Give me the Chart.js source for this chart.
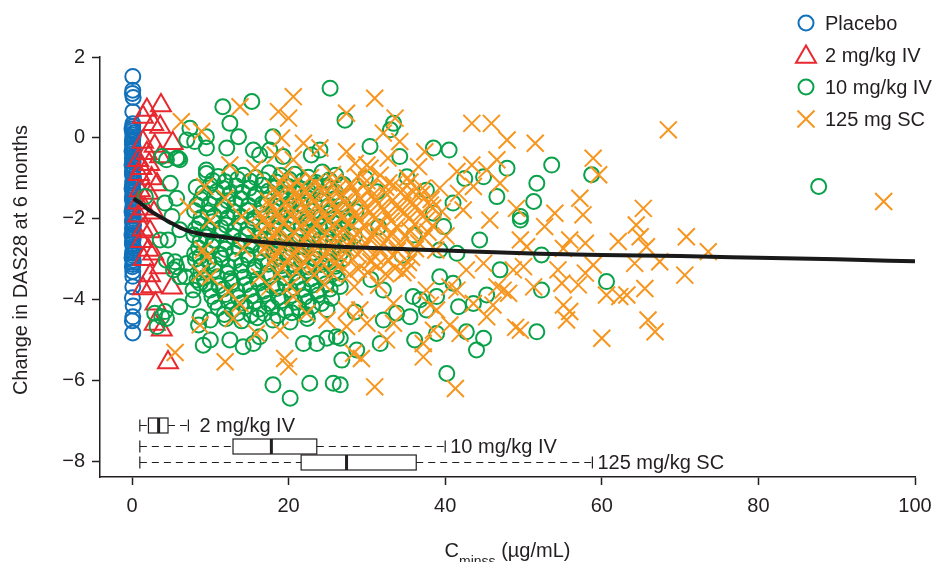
<!DOCTYPE html>
<html>
<head>
<meta charset="utf-8">
<script src="https://cdn.jsdelivr.net/npm/chart.js@4"></script>
<style>
  html, body { margin: 0; padding: 0; background: #fff; }
  #wrap { width: 937px; height: 562px; }
</style>
</head>
<body>
<div id="wrap"><canvas id="chart" width="937" height="562"></canvas></div>
<script>
// Axis ticks
const xTicks = [0, 20, 40, 60, 80, 100];
const yTicks = [-8, -6, -4, -2, 0, 2];

// Placebo: Cminss ~0
const placebo = [
  [0.1, 1.52], [0.1, 1.18], [0.05, 1.1], [0.15, 1.0], [0.1, 0.65], [0.1, 0.35], [0, 0.22], [0.2, 0.12],
  [0.1, 0.02], [0.05, -0.1], [0.15, -0.22], [0, -0.33], [0.2, -0.45], [0.1, -0.55], [0, -0.66], [0.15, -0.78],
  [0.05, -0.9], [0.2, -1.0], [0.1, -1.12], [0, -1.25], [0.15, -1.35], [0.05, -1.47], [0.2, -1.58], [0.1, -1.7],
  [0, -1.82], [0.15, -1.93], [0.05, -2.05], [0.2, -2.16], [0.1, -2.28], [0, -2.4], [0.15, -2.5], [0.05, -2.62],
  [0.2, -2.73], [0.1, -2.85], [0, -2.96], [0.15, -3.08], [0.05, -3.18], [0.1, -3.42], [0.1, -3.68], [0.05, -3.95],
  [0.15, -4.15], [0.1, -4.42], [0.05, -4.52], [0.1, -4.82],
  [0.1, 0.28], [0.05, 0.17], [0.15, 0.07], [0.1, -0.04], [0.05, -0.16], [0.15, -0.27], [0.1, -0.39], [0.05, -0.5],
  [0.15, -0.6], [0.1, -0.72], [0.05, -0.84], [0.15, -0.95], [0.1, -1.06], [0.05, -1.18], [0.15, -1.3], [0.1, -1.41],
  [0.05, -1.53], [0.15, -1.64], [0.1, -1.76], [0.05, -1.87], [0.15, -1.99], [0.1, -2.1], [0.05, -2.22], [0.15, -2.34],
  [0.1, -2.45], [0.05, -2.56], [0.15, -2.68], [0.1, -2.79], [0.05, -2.9], [0.15, -3.02], [0.1, -3.13], [0.1, -3.3]
];

// 2 mg/kg IV
const dose2 = [
  [1.9, 0.69], [3.7, 0.8], [1.4, 0.52], [2.7, 0.34], [3.6, 0.27], [5.2, -0.13], [1.4, -0.1], [1.9, -0.38],
  [2.9, -0.2], [0.8, -0.55], [3.6, -0.46], [1.2, -0.75], [2.2, -0.65], [0.9, -0.9], [2.5, -1.0], [1.0, -1.3],
  [2.1, -1.36], [3.2, -1.15], [0.8, -1.6], [1.6, -1.75], [0.8, -1.92], [2.8, -1.85], [1.4, -2.27], [2.3, -2.31],
  [1.2, -2.55], [2.1, -2.77], [2.7, -2.86], [1.5, -3.0], [3.6, -3.2], [2.3, -3.4], [2.5, -3.67], [5.1, -3.7],
  [1.4, -3.72], [3.0, -4.1], [3.8, -4.74], [2.9, -4.6], [4.6, -5.55]
];

// 10 mg/kg IV - scattered points
const dose10Outer = [
  [11.6, 0.77], [15.3, 0.9], [25.3, 1.23], [27.2, 0.44], [12.5, 0.36], [13.6, 0.03], [12.1, -0.25], [7.4, 0.24],
  [7.0, -0.05], [8.0, -0.09], [9.5, -0.25], [5.9, -0.5], [9.5, -0.79], [18.0, 0.03], [15.5, -0.3], [16.3, -0.42],
  [17.6, -0.3], [19.3, -0.46], [22.9, -0.42], [24.0, -0.3], [4.4, -0.54], [33.4, 0.36], [33.0, 0.2], [30.4, -0.21],
  [38.5, -0.25], [47.9, -0.75], [44.9, -0.96], [51.7, -1.12], [46.6, -1.45], [49.6, -1.94], [31.3, -1.33], [35.1, -0.96],
  [34.2, -0.46], [37.6, -1.29], [38.5, -1.86], [41.0, -1.61], [39.8, -2.19], [53.6, -0.67], [58.7, -0.91], [51.3, -1.57],
  [49.6, -2.03], [52.3, -2.89], [52.3, -3.76], [60.6, -3.55], [51.7, -4.79], [87.7, -1.2], [47.0, -3.26], [45.3, -3.88],
  [40.2, -5.82], [44.0, -5.24], [44.9, -4.95], [42.7, -4.79], [41.7, -4.17], [38.9, -4.83], [37.6, -4.25], [35.5, -4.42],
  [36.1, -4.99], [32.1, -4.5], [31.7, -5.08], [28.7, -5.24], [26.6, -4.95], [26.6, -6.1], [33.8, -4.33], [35.9, -3.92],
  [38.9, -3.92], [43.6, -4.09], [41.0, -3.59], [39.3, -3.43], [39.3, -2.77], [44.4, -2.52], [41.5, -2.85], [36.8, -4.0],
  [32.1, -3.76], [18.0, -6.1], [20.2, -6.43], [22.7, -6.06], [25.7, -6.06], [9.1, -5.12], [8.5, -4.62], [10.0, -4.5],
  [12.5, -4.99], [14.2, -5.16], [15.5, -5.08], [16.3, -4.91], [21.9, -5.08], [23.6, -5.08], [24.9, -4.95], [26.1, -4.91],
  [26.8, -5.49], [4.4, -4.46], [4.2, -4.29], [5.3, -3.26], [6.1, -3.43], [8.3, -3.51], [4.6, -2.52], [5.5, -3.06],
  [7.0, -3.1], [2.9, -4.33], [3.8, -4.42], [3.2, -4.66], [1.7, -1.45], [3.8, -0.46], [5.7, -0.5], [9.5, 0.03],
  [6.1, -0.54], [4.9, -1.12], [4.2, -1.61], [5.7, -1.49], [5.1, -1.94], [6.1, -2.27], [3.6, -2.52], [4.4, -3.02],
  [5.7, -3.18], [6.8, -3.43], [7.8, -3.76], [6.1, -4.17], [8.7, -3.59], [8.7, -4.42], [10.0, -4.99], [8.7, -2.93],
  [7.8, -4.0], [31.5, -2.2], [34.5, -2.9], [30.5, -3.5], [29.8, -1.0], [36.0, -2.4], [42.5, -1.0], [40.5, -0.3],
  [28.5, -4.3]
];

// 10 mg/kg IV - dense core
const dose10Core = [
  [9.5, -0.88], [11.0, -0.95], [12.6, -0.85], [14.2, -0.92], [15.8, -0.98], [17.5, -0.86], [19.0, -0.93], [20.8, -0.9],
  [22.5, -0.97], [24.3, -0.84], [26.0, -0.92],
  [8.2, -1.22], [10.0, -1.17], [11.7, -1.25], [13.3, -1.19], [15.0, -1.24], [16.6, -1.16], [18.3, -1.23], [20.0, -1.2],
  [21.6, -1.26], [23.4, -1.18], [25.1, -1.22], [27.0, -1.15],
  [8.8, -1.52], [10.5, -1.47], [12.2, -1.55], [13.9, -1.5], [15.6, -1.46], [17.2, -1.54], [19.0, -1.49], [20.7, -1.53],
  [22.4, -1.48], [24.1, -1.56], [25.9, -1.5], [27.8, -1.45],
  [8.0, -1.8], [9.7, -1.85], [11.4, -1.77], [13.0, -1.83], [14.7, -1.79], [16.4, -1.86], [18.1, -1.8], [19.8, -1.76],
  [21.5, -1.84], [23.2, -1.8], [25.0, -1.87], [26.7, -1.78], [28.6, -1.82],
  [8.6, -2.12], [10.3, -2.07], [12.0, -2.15], [13.7, -2.1], [15.4, -2.06], [17.1, -2.14], [18.8, -2.09], [20.5, -2.13],
  [22.2, -2.08], [23.9, -2.16], [25.7, -2.1], [27.5, -2.05],
  [7.9, -2.4], [9.5, -2.45], [11.2, -2.37], [12.9, -2.43], [14.6, -2.39], [16.3, -2.46], [18.0, -2.4], [19.7, -2.36],
  [21.4, -2.44], [23.1, -2.4], [24.8, -2.47], [26.6, -2.38], [28.4, -2.42],
  [8.5, -2.72], [10.2, -2.67], [11.9, -2.75], [13.6, -2.7], [15.3, -2.66], [17.0, -2.74], [18.7, -2.69], [20.4, -2.73],
  [22.1, -2.68], [23.8, -2.76], [25.6, -2.7], [27.3, -2.65],
  [8.1, -3.0], [9.8, -3.05], [11.5, -2.97], [13.2, -3.03], [14.9, -2.99], [16.6, -3.06], [18.3, -3.0], [20.0, -2.96],
  [21.7, -3.04], [23.4, -3.0], [25.2, -3.07], [27.0, -2.98],
  [8.8, -3.32], [10.5, -3.27], [12.2, -3.35], [13.9, -3.3], [15.6, -3.26], [17.3, -3.34], [19.0, -3.29], [20.7, -3.33],
  [22.4, -3.28], [24.1, -3.36], [25.9, -3.3],
  [9.4, -3.6], [11.1, -3.65], [12.8, -3.57], [14.5, -3.63], [16.2, -3.59], [17.9, -3.66], [19.6, -3.6], [21.3, -3.56],
  [23.0, -3.64], [24.8, -3.6], [26.6, -3.67],
  [10.2, -3.92], [11.9, -3.87], [13.6, -3.95], [15.3, -3.9], [17.0, -3.86], [18.7, -3.94], [20.4, -3.89], [22.1, -3.93],
  [23.8, -3.88], [25.5, -3.96],
  [11.0, -4.2], [12.8, -4.25], [14.5, -4.17], [16.2, -4.23], [17.9, -4.19], [19.6, -4.26], [21.3, -4.2], [23.0, -4.16],
  [24.9, -4.24],
  [12.0, -4.47], [14.0, -4.52], [16.0, -4.44], [18.0, -4.5], [20.2, -4.55], [22.4, -4.46],
  // second, offset layer
  [10.3, -1.05], [11.9, -1.08], [13.5, -1.02], [15.1, -1.07], [16.8, -1.04], [18.4, -1.09], [20.1, -1.03], [21.8, -1.06],
  [23.5, -1.1], [25.2, -1.04],
  [9.1, -1.36], [10.8, -1.33], [12.5, -1.38], [14.1, -1.34], [15.8, -1.39], [17.4, -1.32], [19.1, -1.37], [20.8, -1.35],
  [22.5, -1.31], [24.2, -1.38], [26.0, -1.34],
  [8.3, -1.66], [9.9, -1.63], [11.6, -1.68], [13.2, -1.62], [14.9, -1.67], [16.6, -1.64], [18.3, -1.69], [20.0, -1.63],
  [21.6, -1.66], [23.3, -1.61], [25.1, -1.68], [26.9, -1.64],
  [8.8, -1.97], [10.5, -1.93], [12.2, -1.98], [13.9, -1.94], [15.6, -1.99], [17.3, -1.92], [19.0, -1.96], [20.7, -1.94],
  [22.4, -1.99], [24.1, -1.93], [25.8, -1.97], [27.6, -1.95],
  [8.1, -2.25], [9.7, -2.28], [11.4, -2.22], [13.1, -2.27], [14.8, -2.24], [16.5, -2.29], [18.2, -2.23], [19.9, -2.26],
  [21.6, -2.22], [23.3, -2.28], [25.0, -2.24], [26.8, -2.27],
  [8.7, -2.56], [10.4, -2.53], [12.1, -2.58], [13.8, -2.54], [15.5, -2.59], [17.2, -2.52], [18.9, -2.56], [20.6, -2.54],
  [22.3, -2.59], [24.0, -2.53], [25.7, -2.57], [27.5, -2.55],
  [8.0, -2.86], [9.6, -2.83], [11.3, -2.88], [13.0, -2.84], [14.7, -2.89], [16.4, -2.82], [18.1, -2.86], [19.8, -2.84],
  [21.5, -2.89], [23.2, -2.83], [24.9, -2.87], [26.6, -2.85],
  [8.9, -3.16], [10.6, -3.13], [12.3, -3.18], [14.0, -3.14], [15.7, -3.19], [17.4, -3.12], [19.1, -3.16], [20.8, -3.14],
  [22.5, -3.19], [24.2, -3.13], [26.0, -3.17],
  [9.2, -3.46], [10.9, -3.43], [12.6, -3.48], [14.3, -3.44], [16.0, -3.49], [17.7, -3.42], [19.4, -3.46], [21.1, -3.44],
  [22.8, -3.49], [24.5, -3.43], [26.2, -3.47],
  [10.0, -3.76], [11.7, -3.73], [13.4, -3.78], [15.1, -3.74], [16.8, -3.79], [18.5, -3.72], [20.2, -3.76], [21.9, -3.74],
  [23.6, -3.79], [25.3, -3.73],
  [10.6, -4.06], [12.3, -4.03], [14.0, -4.08], [15.7, -4.04], [17.4, -4.09], [19.1, -4.02], [20.8, -4.06], [22.5, -4.04],
  [24.2, -4.09],
  [11.8, -4.36], [13.5, -4.33], [15.2, -4.38], [16.9, -4.34], [18.6, -4.39], [20.4, -4.32], [22.2, -4.36]
];

// 125 mg SC - scattered points
const dose125Outer = [
  [96.0, -1.57], [68.5, 0.2], [51.5, -0.13], [58.9, -0.5], [59.6, -0.91], [57.2, -1.49], [57.6, -1.9], [54.0, -1.86],
  [52.7, -2.19], [65.3, -1.74], [64.4, -2.15], [64.9, -2.44], [62.1, -2.56], [65.7, -2.69], [57.9, -2.6], [55.9, -2.52],
  [55.1, -2.73], [64.2, -3.1], [67.4, -3.06], [58.9, -3.14], [57.9, -3.34], [54.4, -3.26], [54.9, -3.59], [57.0, -3.63],
  [60.6, -3.88], [62.3, -3.92], [63.2, -3.88], [65.5, -3.72], [55.1, -4.13], [55.9, -4.29], [55.5, -4.5], [65.9, -4.5],
  [66.8, -4.79], [60.0, -4.95], [49.6, -4.75], [50.4, -2.69], [50.0, -3.18], [70.8, -2.44], [73.6, -2.81], [70.6, -3.39],
  [31.0, 0.98], [27.4, 0.61], [33.6, 0.49], [43.4, 0.36], [45.9, 0.36], [47.9, -0.05], [32.1, 0.12], [34.2, -0.09],
  [27.4, -0.34], [37.4, -0.34], [32.7, -0.5], [30.4, -0.75], [36.6, -0.71], [41.5, -0.83], [43.4, -0.67], [46.6, -0.54],
  [45.3, -0.79], [47.0, -1.12], [39.3, -1.24], [41.7, -1.37], [43.6, -1.2], [33.4, -1.16], [35.9, -1.33], [38.1, -1.66],
  [42.3, -1.78], [49.1, -1.74], [45.7, -2.03], [30.0, -0.67],
  [20.6, 1.02], [13.8, 0.77], [18.7, 0.65], [20.0, 0.49], [6.3, 0.4], [8.9, 0.16], [19.1, 0.0], [21.9, -0.13],
  [24.0, -0.25], [28.5, -0.63], [12.5, -0.67], [15.7, -0.75], [20.6, -0.54], [18.3, -0.42], [9.3, -1.2], [7.2, -1.7],
  [11.9, -1.49], [10.0, -2.03], [14.0, -1.94],
  [5.5, -5.3], [11.9, -5.53], [19.5, -5.45], [20.0, -5.65], [12.9, -4.46], [15.9, -4.83], [18.9, -4.75], [9.5, -2.93],
  [10.0, -3.43], [12.3, -3.8], [13.8, -4.09], [16.3, -3.43], [17.6, -3.68], [20.6, -3.92], [22.3, -4.33], [24.9, -4.5],
  [27.4, -4.66], [27.4, -4.25], [14.2, -2.73], [9.1, -2.77], [8.7, -3.34], [8.7, -4.62],
  [31.0, -6.15], [41.3, -6.19], [37.2, -5.41], [28.3, -5.32], [29.3, -5.45], [32.5, -4.99], [40.6, -4.62], [41.9, -4.83],
  [49.0, -4.68], [38.5, -4.75], [38.9, -4.25], [40.6, -3.68], [43.6, -4.09], [45.3, -4.42], [46.1, -4.13], [48.1, -3.84],
  [46.6, -3.68], [48.7, -3.26], [49.6, -2.52], [51.3, -3.68], [44.9, -3.1], [42.7, -3.26], [41.5, -3.76], [38.1, -4.13],
  [37.6, -3.76], [35.1, -3.26], [33.4, -4.09], [29.1, -4.25], [30.0, -4.58], [37.2, -5.08], [33.4, -4.58], [47.4, -3.76]
];

// 125 mg SC - dense core
const dose125Core = [
  [19.5, -0.93], [22.8, -0.98], [25.6, -0.9], [28.9, -0.96], [31.7, -0.92], [35.2, -0.99],
  [18.2, -1.25], [20.3, -1.2], [22.1, -1.28], [24.4, -1.23], [26.2, -1.27], [28.1, -1.21], [30.3, -1.26], [32.4, -1.22],
  [34.6, -1.29], [37.1, -1.24],
  [17.4, -1.55], [19.6, -1.59], [21.3, -1.52], [23.2, -1.57], [25.3, -1.53], [27.1, -1.58], [29.2, -1.51], [31.1, -1.56],
  [33.3, -1.54], [35.5, -1.59], [38.2, -1.52],
  [16.3, -1.86], [18.5, -1.82], [20.4, -1.88], [22.6, -1.84], [24.5, -1.87], [26.4, -1.81], [28.5, -1.86], [30.4, -1.83],
  [32.6, -1.89], [34.8, -1.84], [36.9, -1.87], [39.6, -1.82],
  [17.2, -2.15], [19.3, -2.11], [21.5, -2.18], [23.4, -2.14], [25.6, -2.17], [27.5, -2.12], [29.6, -2.16], [31.7, -2.13],
  [33.8, -2.19], [36.1, -2.14], [38.4, -2.17],
  [15.8, -2.46], [18.1, -2.42], [20.1, -2.48], [22.3, -2.44], [24.2, -2.47], [26.3, -2.41], [28.4, -2.46], [30.6, -2.43],
  [32.7, -2.49], [34.9, -2.44], [37.3, -2.47], [40.1, -2.42],
  [16.9, -2.75], [19.0, -2.71], [21.2, -2.78], [23.1, -2.74], [25.2, -2.77], [27.3, -2.72], [29.4, -2.76], [31.6, -2.73],
  [33.9, -2.79], [36.2, -2.74], [38.8, -2.77],
  [17.8, -3.06], [20.0, -3.02], [22.0, -3.08], [24.1, -3.04], [26.1, -3.07], [28.2, -3.01], [30.5, -3.06], [32.8, -3.03],
  [35.3, -3.08],
  [18.6, -3.35], [21.0, -3.31], [23.3, -3.38], [25.5, -3.34], [27.8, -3.37], [30.1, -3.32], [32.4, -3.36], [34.6, -3.33],
  [20.2, -3.66], [24.6, -3.62], [28.4, -3.68], [31.5, -3.64],
  // second, offset layer
  [19.0, -1.1], [21.2, -1.07], [23.4, -1.12], [25.8, -1.08], [27.9, -1.13], [30.0, -1.06], [32.8, -1.11], [35.5, -1.09],
  [18.6, -1.41], [20.9, -1.38], [22.7, -1.43], [24.6, -1.39], [26.6, -1.44], [28.6, -1.37], [30.7, -1.42], [32.6, -1.4],
  [34.9, -1.45], [37.0, -1.39],
  [17.8, -1.71], [19.9, -1.68], [21.9, -1.73], [23.9, -1.69], [25.9, -1.74], [27.8, -1.67], [29.9, -1.72], [31.9, -1.7],
  [34.0, -1.75], [36.3, -1.69], [38.4, -1.73],
  [16.8, -2.01], [18.9, -1.98], [20.9, -2.03], [22.9, -1.99], [25.0, -2.04], [26.9, -1.97], [29.0, -2.02], [31.0, -2.0],
  [33.1, -2.05], [35.4, -1.99], [37.6, -2.03],
  [16.5, -2.31], [18.6, -2.28], [20.7, -2.33], [22.8, -2.29], [24.9, -2.34], [26.9, -2.27], [29.0, -2.32], [31.1, -2.3],
  [33.2, -2.35], [35.5, -2.29], [37.8, -2.33],
  [17.4, -2.61], [19.5, -2.58], [21.6, -2.63], [23.7, -2.59], [25.7, -2.64], [27.8, -2.57], [29.9, -2.62], [32.1, -2.6],
  [34.3, -2.65], [36.6, -2.59],
  [18.3, -2.91], [20.5, -2.88], [22.6, -2.93], [24.6, -2.89], [26.7, -2.94], [28.8, -2.87], [31.0, -2.92], [33.3, -2.9],
  [35.7, -2.95],
  [19.2, -3.21], [21.6, -3.18], [24.0, -3.23], [26.3, -3.19], [28.9, -3.24], [31.3, -3.17], [33.6, -3.22]
];

// Model fit
const trendX = [0.2, 1, 2, 3.6, 5, 6.8, 9, 12, 16, 20, 29, 40, 52, 60, 70, 80, 90, 100];
const trendY = [-1.5, -1.6, -1.76, -1.95, -2.1, -2.27, -2.38, -2.46, -2.56, -2.62, -2.71, -2.78, -2.86, -2.89, -2.92, -2.96, -3.0, -3.05];

// Exposure box plots (Cminss)
const boxLabels = ['2 mg/kg IV', '10 mg/kg IV', '125 mg/kg SC'];
const boxRowY = [-7.1, -7.6, -8.0];
const boxMin = [1.0, 1.0, 1.0];
const boxQ1 = [2.1, 12.9, 21.6];
const boxMed = [3.4, 17.8, 27.4];
const boxQ3 = [4.6, 23.6, 36.3];
const boxMax = [7.2, 40.0, 58.8];

const legendLabels = ['Placebo', '2 mg/kg IV', '10 mg/kg IV', '125 mg SC'];

const ink = '#231f20';
const colors = { placebo: '#1170ba', dose2: '#e8282e', dose10: '#0aa14b', dose125: '#f7961f' };
const fontFamily = "'Liberation Sans', Arial, Helvetica, sans-serif";
const fontSize = 20;

const toPts = arr => arr.map(([x, y]) => ({ x, y }));
const minus = v => String(v).replace('-', '\u2212');

function drawMarker(ctx, kind, x, y) {
  ctx.beginPath();
  if (kind === 'circle') {
    ctx.arc(x, y, 7.5, 0, Math.PI * 2);
  } else if (kind === 'triangle') {
    ctx.moveTo(x, y - 11.5);
    ctx.lineTo(x + 10, y + 5.75);
    ctx.lineTo(x - 10, y + 5.75);
    ctx.closePath();
  } else {
    ctx.moveTo(x - 8.5, y - 8.5); ctx.lineTo(x + 8.5, y + 8.5);
    ctx.moveTo(x + 8.5, y - 8.5); ctx.lineTo(x - 8.5, y + 8.5);
  }
  ctx.stroke();
}

const extras = {
  id: 'extras',
  afterDatasetsDraw(chart) {
    const { ctx, scales: { x, y }, chartArea } = chart;
    ctx.save();
    ctx.strokeStyle = ink;
    ctx.fillStyle = ink;

    // box plots
    ctx.font = fontSize + 'px ' + fontFamily;
    ctx.textBaseline = 'middle';
    ctx.textAlign = 'left';
    boxLabels.forEach((label, i) => {
      const yy = Math.round(y.getPixelForValue(boxRowY[i])) + 0.5;
      const pMin = x.getPixelForValue(boxMin[i]);
      const pQ1 = x.getPixelForValue(boxQ1[i]);
      const pMed = x.getPixelForValue(boxMed[i]);
      const pQ3 = x.getPixelForValue(boxQ3[i]);
      const pMax = x.getPixelForValue(boxMax[i]);
      ctx.lineWidth = 1.2;
      ctx.setLineDash([7, 5]);
      ctx.beginPath();
      ctx.moveTo(pMin, yy); ctx.lineTo(pQ1, yy);
      ctx.moveTo(pQ3, yy); ctx.lineTo(pMax, yy);
      ctx.stroke();
      ctx.setLineDash([]);
      ctx.beginPath();
      ctx.moveTo(pMin, yy - 6); ctx.lineTo(pMin, yy + 6);
      ctx.moveTo(pMax, yy - 6); ctx.lineTo(pMax, yy + 6);
      ctx.stroke();
      ctx.strokeRect(pQ1, yy - 7.5, pQ3 - pQ1, 15);
      ctx.lineWidth = 3;
      ctx.beginPath();
      ctx.moveTo(pMed, yy - 7.5); ctx.lineTo(pMed, yy + 7.5);
      ctx.stroke();
      const gap = i === 0 ? 11 : 5;
      ctx.fillText(label, pMax + gap, yy + 1);
    });

    // legend
    const kinds = ['circle', 'triangle', 'circle', 'cross'];
    const cols = [colors.placebo, colors.dose2, colors.dose10, colors.dose125];
    legendLabels.forEach((label, i) => {
      const ly = 23 + i * 32;
      ctx.strokeStyle = cols[i];
      ctx.lineWidth = 2;
      drawMarker(ctx, kinds[i], 806, i === 1 ? ly + 2 : ly);
      ctx.fillStyle = ink;
      ctx.fillText(label, 825, ly + 1);
    });

    // y axis title
    ctx.save();
    ctx.translate(21, 260);
    ctx.rotate(-Math.PI / 2);
    ctx.textAlign = 'center';
    ctx.fillText('Change in DAS28 at 6 months', 0, 0);
    ctx.restore();

    // x axis title with subscript
    const main = fontSize + 'px ' + fontFamily, sub = '14px ' + fontFamily;
    ctx.font = main;
    const wC = ctx.measureText('C').width;
    const wU = ctx.measureText(' (\u00b5g/mL)').width;
    ctx.font = sub;
    const wS = ctx.measureText('minss').width;
    const tx = (chartArea.left + chartArea.right) / 2 - (wC + wS + wU) / 2;
    ctx.textBaseline = 'alphabetic';
    ctx.font = main;
    ctx.fillText('C', tx, 557);
    ctx.font = sub;
    ctx.fillText('minss', tx + wC, 566);
    ctx.font = main;
    ctx.fillText(' (\u00b5g/mL)', tx + wC + wS, 557);
    ctx.restore();
  }
};

function scatterSet(label, data, style, color, radius, order) {
  return {
    type: 'scatter',
    label,
    data: toPts(data),
    pointStyle: style,
    pointRadius: radius,
    pointBorderWidth: 2,
    borderColor: color,
    backgroundColor: 'rgba(0,0,0,0)',
    pointBackgroundColor: 'rgba(0,0,0,0)',
    pointHoverRadius: radius,
    clip: false,
    order
  };
}

const axisCommon = {
  type: 'linear',
  grid: { display: true, drawOnChartArea: false, drawTicks: true, tickLength: 8, tickColor: ink, tickWidth: 1.5 },
  border: { display: true, color: ink, width: 1.5 },
  ticks: { color: ink, font: { size: fontSize, family: fontFamily }, maxRotation: 0 }
};

new Chart(document.getElementById('chart'), {
  data: {
    datasets: [
      {
        type: 'line',
        label: 'fit',
        data: trendX.map((x, i) => ({ x, y: trendY[i] })),
        borderColor: '#1a1a1a',
        borderWidth: 4,
        pointRadius: 0,
        cubicInterpolationMode: 'monotone',
        fill: false,
        order: 0
      },
      scatterSet('125 mg SC', dose125Core.concat(dose125Outer), 'crossRot', colors.dose125, 12, 1),
      scatterSet('10 mg/kg IV', dose10Core.concat(dose10Outer), 'circle', colors.dose10, 7.5, 2),
      scatterSet('2 mg/kg IV', dose2, 'triangle', colors.dose2, 11.5, 3),
      scatterSet('Placebo', placebo, 'circle', colors.placebo, 7.5, 4)
    ]
  },
  options: {
    responsive: false,
    animation: false,
    devicePixelRatio: 1,
    layout: { padding: { top: 57, right: 22, left: 0, bottom: 0 } },
    plugins: { legend: { display: false }, tooltip: { enabled: false } },
    scales: {
      x: {
        ...axisCommon,
        position: 'bottom',
        min: -4.087,
        max: 100,
        ticks: { ...axisCommon.ticks, padding: 9 },
        afterBuildTicks: axis => { axis.ticks = xTicks.map(value => ({ value })); },
        afterFit: scale => { scale.height = 85; scale.paddingLeft = 0; scale.paddingRight = 0; }
      },
      y: {
        ...axisCommon,
        position: 'left',
        min: -8.378,
        max: 2,
        ticks: { ...axisCommon.ticks, padding: 7, callback: v => minus(v) },
        afterBuildTicks: axis => { axis.ticks = yTicks.map(value => ({ value })); },
        afterFit: scale => { scale.width = 100; scale.paddingTop = 0; scale.paddingBottom = 0; }
      }
    }
  },
  plugins: [extras]
});
</script>
</body>
</html>
